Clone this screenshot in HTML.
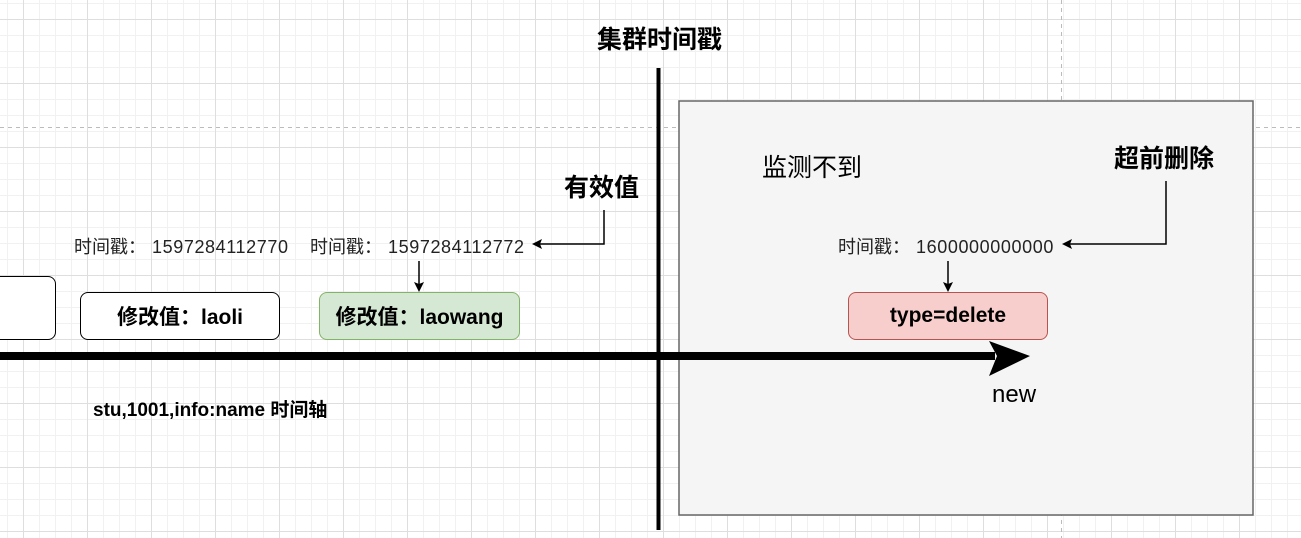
<!DOCTYPE html>
<html><head><meta charset="utf-8"><style>
body{margin:0;width:1301px;height:538px;overflow:hidden;background:#fff;font-family:"Liberation Sans","Noto Sans CJK SC",sans-serif;}
.grid{position:absolute;left:0;top:0;width:1301px;height:538px;
background-image:
linear-gradient(to right,#dedede 1px,transparent 1px),
linear-gradient(to bottom,#dedede 1px,transparent 1px),
linear-gradient(to right,#f1f1f1 1px,transparent 1px),
linear-gradient(to bottom,#f1f1f1 1px,transparent 1px);
background-size:64px 64px,64px 64px,16px 16px,16px 16px;
background-position:23px 19px,23px 19px,7px 3px,7px 3px;}
.t{position:absolute;white-space:nowrap;color:#000;}
.box{position:absolute;box-sizing:border-box;border-radius:8px;display:flex;align-items:center;justify-content:center;font-weight:bold;font-size:21px;}
.ts{position:absolute;white-space:nowrap;color:#222;font-size:18px;letter-spacing:0.6px;}
.ts span{display:inline-block;width:78px;letter-spacing:0;}
</style></head><body>
<div class="grid"></div>
<svg style="position:absolute;left:0;top:0" width="1301" height="538">
<line x1="0" y1="127.5" x2="1301" y2="127.5" stroke="#bbb" stroke-dasharray="4 4"/>
<line x1="1061.5" y1="0" x2="1061.5" y2="538" stroke="#bbb" stroke-dasharray="4 4"/>
<rect x="679" y="101" width="574" height="414" fill="#f5f5f5" stroke="#666" stroke-width="1.5"/>
<line x1="658.5" y1="68" x2="658.5" y2="530" stroke="#000" stroke-width="4"/>
<line x1="0" y1="356" x2="995" y2="356" stroke="#000" stroke-width="8"/>
<polygon points="989,341 1030,356 989,376 997,356" fill="#000"/>
<polyline points="604,210 604,244 540,244" fill="none" stroke="#000" stroke-width="1.5"/>
<polygon points="532,244 542,239 540,244 542,249" fill="#000"/>
<polyline points="1166,181 1166,244 1070,244" fill="none" stroke="#000" stroke-width="1.5"/>
<polygon points="1062,244 1072,239 1070,244 1072,249" fill="#000"/>
<line x1="419" y1="261" x2="419" y2="284" stroke="#000" stroke-width="1.5"/>
<polygon points="419,292 414,282 419,284 424,282" fill="#000"/>
<line x1="948" y1="261" x2="948" y2="284" stroke="#000" stroke-width="1.5"/>
<polygon points="948,292 943,282 948,284 953,282" fill="#000"/>
</svg>
<div class="box" style="left:-20px;top:276px;width:76px;height:64px;border:1.5px solid #000;background:#fff"></div>
<div class="box" style="left:80px;top:292px;width:200px;height:48px;border:1.5px solid #000;background:#fff">修改值：laoli</div>
<div class="box" style="left:319px;top:292px;width:201px;height:48px;border:1.5px solid #82b366;background:#d5e8d4">修改值：laowang</div>
<div class="box" style="left:848px;top:292px;width:200px;height:48px;border:1.5px solid #b85450;background:#f8cecc">type=delete</div>
<div class="t" style="left:597px;top:20px;font-size:25px;font-weight:bold">集群时间戳</div>
<div class="t" style="left:564px;top:168px;font-size:25px;font-weight:bold">有效值</div>
<div class="t" style="left:1114px;top:139px;font-size:25px;font-weight:bold">超前删除</div>
<div class="t" style="left:762px;top:148px;font-size:25px">监测不到</div>
<div class="ts" style="left:74px;top:233px"><span>时间戳：</span>1597284112770</div>
<div class="ts" style="left:310px;top:233px"><span>时间戳：</span>1597284112772</div>
<div class="ts" style="left:838px;top:233px"><span>时间戳：</span>1600000000000</div>
<div class="t" style="left:93px;top:395px;font-size:19px;font-weight:bold">stu,1001,info:name 时间轴</div>
<div class="t" style="left:992px;top:381px;font-size:24px">new</div>
</body></html>
